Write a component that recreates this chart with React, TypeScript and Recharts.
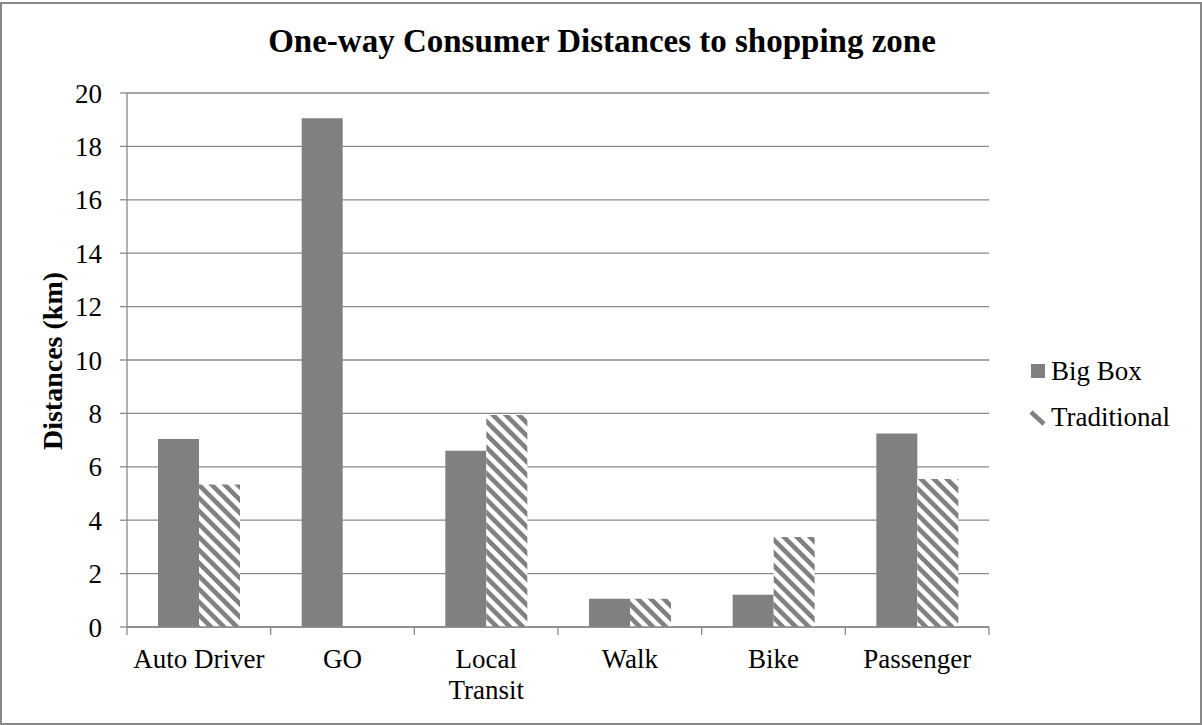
import React from 'react';
import { BarChart, Bar, XAxis, YAxis, CartesianGrid, Legend } from 'recharts';

const categories = ['Auto Driver', 'GO', 'Local Transit', 'Walk', 'Bike', 'Passenger'];
const bigBox = [7.04, 19.05, 6.6, 1.06, 1.21, 7.25];
const traditional = [5.34, 0, 7.94, 1.06, 3.37, 5.54];
const yTicks = [0, 2, 4, 6, 8, 10, 12, 14, 16, 18, 20];
const tickLabelLines: Record<string, string[]> = {
  'Local Transit': ['Local', 'Transit'],
};
const seriesNames = ['Big Box', 'Traditional'];
const title = 'One-way Consumer Distances to shopping zone';
const yLabel = 'Distances (km)';

const data = categories.map((c, i) => ({
  category: c,
  bigBox: bigBox[i],
  traditional: traditional[i],
}));

const FONT = "'Liberation Serif', serif";
const GRAY = '#808080';
const LINE = '#888888';
const TXT = { fontFamily: FONT };

const XTick = (props: any) => {
  const { x, y, payload, index, visibleTicksCount, width } = props;
  let band = width && visibleTicksCount ? width / visibleTicksCount : 143.7;
  if (!(band > 100 && band < 200)) band = 143.7;
  const lines = tickLabelLines[payload.value] ?? [payload.value];
  return (
    <g>
      <line x1={x - band / 2} x2={x - band / 2} y1={y} y2={y + 8} stroke={LINE} strokeWidth={1.3} />
      {index === visibleTicksCount - 1 && (
        <line x1={x + band / 2} x2={x + band / 2} y1={y} y2={y + 8} stroke={LINE} strokeWidth={1.3} />
      )}
      <text x={x} y={y + 41} textAnchor="middle" style={TXT} fontFamily={FONT} fontSize={27} fill="#000">
        {lines.map((l: string, i: number) => (
          <tspan key={i} x={x} dy={i === 0 ? 0 : 31}>
            {l}
          </tspan>
        ))}
      </text>
    </g>
  );
};

const renderLegend = () => (
  <svg width={174} height={80} style={{ overflow: 'visible' }}>
    <rect x={3} y={9} width={14} height={14} fill={GRAY} />
    <text x={23} y={25} style={TXT} fontFamily={FONT} fontSize={27} fill="#000">
      {seriesNames[0]}
    </text>
    <line x1={3} y1={57} x2={16} y2={69} stroke={GRAY} strokeWidth={4.5} />
    <text x={23} y={71} style={TXT} fontFamily={FONT} fontSize={27} fill="#000">
      {seriesNames[1]}
    </text>
  </svg>
);

const renderYLabel = () => (
  <text
    x={62}
    y={361}
    transform="rotate(-90 62 361)"
    textAnchor="middle"
    style={{ fontFamily: FONT, fontWeight: 'bold' }}
    fontFamily={FONT}
    fontWeight="bold"
    fontSize={28}
    fill="#000"
  >
    {yLabel}
  </text>
);

export default function App() {
  return (
    <div style={{ position: 'absolute', left: 0, top: 0, width: 1202, height: 725, background: '#fff', fontFamily: FONT }}>
      <div
        style={{
          position: 'absolute',
          left: 0,
          top: 2,
          width: 1202,
          height: 723,
          border: '2px solid #888',
          boxSizing: 'border-box',
        }}
      />
      <div
        style={{
          position: 'absolute',
          left: 0,
          top: 25,
          width: 1204,
          textAlign: 'center',
          fontFamily: FONT,
          fontWeight: 'bold',
          fontSize: 33,
          lineHeight: '33px',
          color: '#000',
          zIndex: 2,
        }}
      >
        {title}
      </div>
      <BarChart
        width={1202}
        height={725}
        data={data}
        margin={{ top: 93, right: 213, bottom: 38, left: 0 }}
        barGap={0}
        style={TXT}
      >
        <defs>
          <pattern id="hatch" patternUnits="userSpaceOnUse" width={13} height={13}>
            <rect x={0} y={0} width={13} height={13} fill="#fff" />
            <path d="M-4,9 L4,17 M-1,-1 L14,14 M9,-4 L17,4" stroke={GRAY} strokeWidth={4.6} />
          </pattern>
        </defs>
        <CartesianGrid vertical={false} stroke={LINE} strokeWidth={1.3} />
        <XAxis
          dataKey="category"
          tickLine={false}
          tickSize={0}
          tickMargin={0}
          axisLine={{ stroke: LINE, strokeWidth: 1.3 }}
          tick={<XTick />}
          height={60}
          interval={0}
        />
        <YAxis
          domain={[0, 20]}
          ticks={yTicks}
          width={127}
          tickSize={7}
          tickMargin={18}
          tickLine={{ stroke: LINE, strokeWidth: 1.3 }}
          axisLine={{ stroke: LINE, strokeWidth: 1.3 }}
          tick={{ fontFamily: FONT, fontSize: 27, fill: '#000', style: TXT }}
          interval={0}
          label={renderYLabel}
        />
        <Legend
          layout="horizontal"
          verticalAlign="middle"
          align="center"
          content={renderLegend}
          wrapperStyle={{ left: 1028, top: 355, width: 174, height: 80 }}
        />
        <Bar dataKey="bigBox" name={seriesNames[0]} fill={GRAY} barSize={41} isAnimationActive={false} />
        <Bar dataKey="traditional" name={seriesNames[1]} fill="url(#hatch)" barSize={41} isAnimationActive={false} />
      </BarChart>
    </div>
  );
}
